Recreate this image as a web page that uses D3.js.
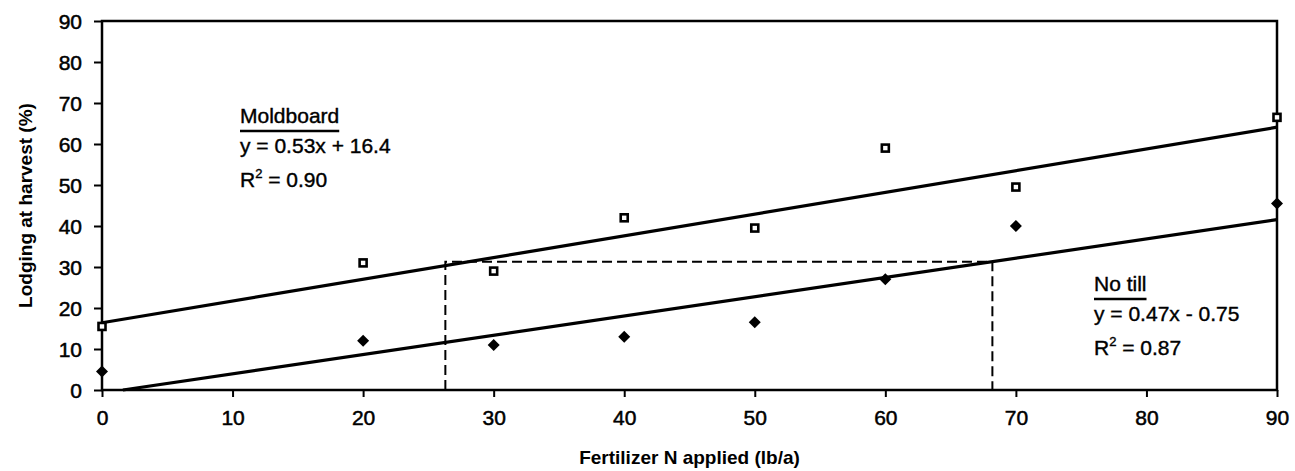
<!DOCTYPE html>
<html lang="en">
	<head>
		<meta charset="utf-8">
		<title>Lodging vs fertilizer N</title>
		<script type="text/javascript" src="https://cdn.jsdelivr.net/npm/d3@7"></script>
		<style type="text/css">
			body { margin: 0; background: #fff; }
			.axis path, .axis line { stroke: #000; stroke-width: 2; }
			.axis text { font-family: "Liberation Sans", Arial, sans-serif; font-size: 21px; fill: #000; stroke: #000; stroke-width: 0.5; }
		</style>
	</head>
	<body>
		<script type="text/javascript">

			//Width and height
			var w = 1295;
			var h = 471;

			//Data
			var nRates = [0, 20, 30, 40, 50, 60, 70, 90];
			var moldboard = [15.5, 31, 29, 42, 39.5, 59, 49.5, 66.5];
			var noTill = [4.5, 12, 11, 13, 16.5, 27, 40, 45.5];

			//Trend lines, as end points [x, y]
			var moldboardTrend = [[0, 16.4], [90, 64.1]];
			var noTillTrend = [[1.6, 0], [90, 41.55]];

			//Dashed guide: equal lodging at 26.3 lb/a (moldboard) and 68.2 lb/a (no till)
			var guide = [[26.3, 0], [26.3, 31.3], [68.2, 31.3], [68.2, 0]];

			var xTicks = [0, 10, 20, 30, 40, 50, 60, 70, 80, 90];
			var yTicks = [0, 10, 20, 30, 40, 50, 60, 70, 80, 90];

			var xScale = d3.scaleLinear().domain([0, 90]).range([102, 1277]);
			var yScale = d3.scaleLinear().domain([0, 90]).range([390, 21]);

			var svg = d3.select("body")
						.append("svg")
						.attr("width", w)
						.attr("height", h);

			//Plot frame
			svg.append("rect")
			   .attr("x", xScale(0))
			   .attr("y", yScale(90))
			   .attr("width", xScale(90) - xScale(0))
			   .attr("height", yScale(0) - yScale(90))
			   .attr("fill", "none")
			   .attr("stroke", "#000")
			   .attr("stroke-width", 2.5);

			//Axes
			var xAxis = d3.axisBottom(xScale).tickValues(xTicks).tickSize(7).tickPadding(13);
			var yAxis = d3.axisLeft(yScale).tickValues(yTicks).tickSize(8).tickPadding(12);

			svg.append("g")
			   .attr("class", "axis")
			   .attr("transform", "translate(0," + yScale(0) + ")")
			   .call(xAxis)
			   .call(function(g) { g.select(".domain").remove(); });

			svg.append("g")
			   .attr("class", "axis")
			   .attr("transform", "translate(" + xScale(0) + ",0)")
			   .call(yAxis)
			   .call(function(g) { g.select(".domain").remove(); })
			   .selectAll("text")
			   .attr("dy", "0.36em");

			//Axis titles
			svg.append("text")
			   .attr("x", (xScale(0) + xScale(90)) / 2)
			   .attr("y", 464)
			   .attr("text-anchor", "middle")
			   .attr("font-family", "Liberation Sans, Arial, sans-serif")
			   .attr("font-weight", "bold")
			   .attr("font-size", "19px")
			   .text("Fertilizer N applied (lb/a)");

			svg.append("text")
			   .attr("transform", "translate(32," + ((yScale(0) + yScale(90)) / 2) + ") rotate(-90)")
			   .attr("text-anchor", "middle")
			   .attr("font-family", "Liberation Sans, Arial, sans-serif")
			   .attr("font-weight", "bold")
			   .attr("font-size", "19px")
			   .text("Lodging at harvest (%)");

			//Trend lines
			var line = d3.line()
						 .x(function(d) { return xScale(d[0]); })
						 .y(function(d) { return yScale(d[1]); });

			svg.append("path")
			   .datum(moldboardTrend)
			   .attr("d", line)
			   .attr("fill", "none")
			   .attr("stroke", "#000")
			   .attr("stroke-width", 3.2);

			svg.append("path")
			   .datum(noTillTrend)
			   .attr("d", line)
			   .attr("fill", "none")
			   .attr("stroke", "#000")
			   .attr("stroke-width", 3.2);

			//Dashed guide
			svg.append("path")
			   .datum(guide)
			   .attr("d", line)
			   .attr("fill", "none")
			   .attr("stroke", "#000")
			   .attr("stroke-width", 2)
			   .attr("stroke-dasharray", "10,5");

			//Moldboard points: open squares
			svg.selectAll("rect.mb")
			   .data(nRates)
			   .enter()
			   .append("rect")
			   .attr("class", "mb")
			   .attr("x", function(d) { return xScale(d) - 3.5; })
			   .attr("y", function(d, i) { return yScale(moldboard[i]) - 3.5; })
			   .attr("width", 7)
			   .attr("height", 7)
			   .attr("fill", "#fff")
			   .attr("stroke", "#000")
			   .attr("stroke-width", 2.6);

			//No till points: filled diamonds
			svg.selectAll("path.nt")
			   .data(nRates)
			   .enter()
			   .append("path")
			   .attr("class", "nt")
			   .attr("d", "M0,-6L6,0L0,6L-6,0Z")
			   .attr("transform", function(d, i) {
			   		return "translate(" + xScale(d) + "," + yScale(noTill[i]) + ")";
			   })
			   .attr("fill", "#000");

			//Equation labels
			var labels = [
				{ x: 240, y: 123, lines: ["Moldboard", "y = 0.53x + 16.4", "R2 = 0.90"] },
				{ x: 1094, y: 291, lines: ["No till", "y = 0.47x - 0.75", "R2 = 0.87"] }
			];

			labels.forEach(function(l) {
				var g = svg.append("g")
						   .attr("font-family", "Liberation Sans, Arial, sans-serif")
						   .attr("font-size", "21px")
						   .attr("fill", "#000")
						   .attr("stroke", "#000")
						   .attr("stroke-width", 0.4);

				var t0 = g.append("text").attr("x", l.x).attr("y", l.y).text(l.lines[0]);
				var tw = t0.node().getComputedTextLength();

				g.append("line")
				 .attr("x1", l.x)
				 .attr("x2", l.x + tw)
				 .attr("y1", l.y + 8)
				 .attr("y2", l.y + 8)
				 .attr("stroke", "#000")
				 .attr("stroke-width", 2.5);

				g.append("text").attr("x", l.x).attr("y", l.y + 30).text(l.lines[1]);

				var r = g.append("text").attr("x", l.x).attr("y", l.y + 64);
				r.append("tspan").text("R");
				r.append("tspan").attr("font-size", "13px").attr("dy", "-9").text("2");
				r.append("tspan").attr("dy", "9").text(l.lines[2].slice(2));
			});

		</script>
	</body>
</html>
